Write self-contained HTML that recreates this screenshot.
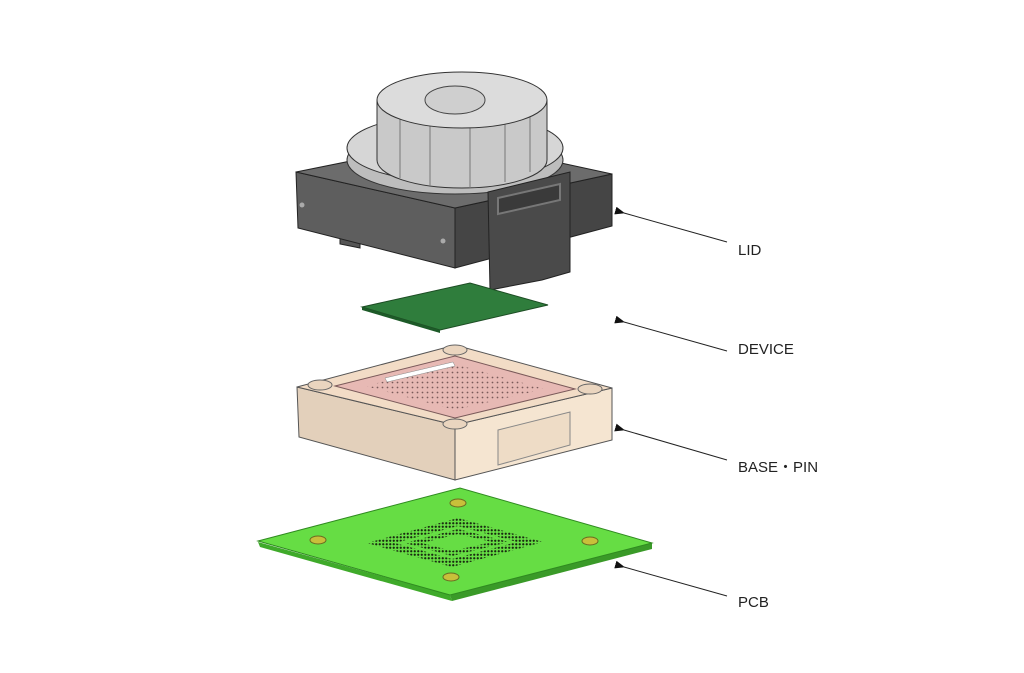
<!DOCTYPE html>
<html><head><meta charset="utf-8"><style>
html,body{margin:0;padding:0;background:#fff;}
svg{display:block;}
text{font-family:"Liberation Sans","Noto Sans CJK JP",sans-serif;font-size:15px;fill:#222;}
</style></head><body>
<svg width="1024" height="673" viewBox="0 0 1024 673" xmlns="http://www.w3.org/2000/svg">
<defs>
<marker id="ah" markerWidth="10" markerHeight="8" refX="1" refY="4" orient="auto">
<path d="M10,0 L0,4 L10,8 Z" fill="#111"/></marker>
<pattern id="dots" width="3.5" height="3.5" patternUnits="userSpaceOnUse">
<circle cx="1.75" cy="1.75" r="1.1" fill="#1a2a10"/></pattern>
<pattern id="pdots" width="5" height="5" patternUnits="userSpaceOnUse">
<circle cx="2.5" cy="2.5" r="0.9" fill="#7a5a5a"/></pattern>
</defs>

<!-- LID -->
<polygon points="340,228 360,228 360,248 340,244" fill="#555" stroke="#222"/>
<polygon points="296,172 455,208 455,268 298,228" fill="#5e5e5e" stroke="#222"/>
<polygon points="455,208 612,174 612,226 455,268" fill="#454545" stroke="#222"/>
<polygon points="296,172 455,140 612,174 455,208" fill="#6c6c6c" stroke="#222"/>
<ellipse cx="455" cy="160" rx="108" ry="34" fill="#bdbdbd" stroke="#333"/>
<ellipse cx="455" cy="148" rx="108" ry="34" fill="#d6d6d6" stroke="#333"/>
<path d="M377,100 L377,160 A85,28 0 0 0 547,160 L547,100 Z" fill="#c9c9c9" stroke="#333"/>
<g stroke="#777" stroke-width="1">
<line x1="400" y1="115" x2="400" y2="178"/><line x1="430" y1="124" x2="430" y2="186"/>
<line x1="470" y1="126" x2="470" y2="188"/><line x1="505" y1="120" x2="505" y2="182"/>
<line x1="530" y1="112" x2="530" y2="172"/></g>
<ellipse cx="462" cy="100" rx="85" ry="28" fill="#dcdcdc" stroke="#333"/>
<ellipse cx="455" cy="100" rx="30" ry="14" fill="#cfcfcf" stroke="#444"/>
<polygon points="488,192 570,172 570,272 542,280 490,290" fill="#4a4a4a" stroke="#222"/>
<polygon points="498,198 560,184 560,200 498,214" fill="#3a3a3a" stroke="#777" stroke-width="2"/>
<circle cx="302" cy="205" r="2.5" fill="#aaa"/><circle cx="443" cy="241" r="2.5" fill="#aaa"/>

<!-- DEVICE -->
<polygon points="362,307 470,283 548,305 440,330" fill="#2f7d3c" stroke="#1d4d24"/>
<polygon points="362,307 440,330 440,333 362,310" fill="#1d5a28"/>

<!-- BASE -->
<polygon points="297,387 455,425 455,480 299,437" fill="#e3d0bb" stroke="#555"/>
<polygon points="455,425 612,388 612,440 455,480" fill="#f5e5d1" stroke="#555"/>
<polygon points="498,430 570,412 570,445 498,465" fill="#eedcc6" stroke="#888"/>
<polygon points="297,387 455,345 612,388 455,425" fill="#f2dcc6" stroke="#555"/>
<polygon points="335,386 455,356 575,389 455,418" fill="#e7b9b4" stroke="#7a5a5a"/>
<polygon points="365,386 455,364 545,389 455,410" fill="url(#pdots)"/>
<polygon points="385,378 453,362 455,366 387,382" fill="#fff" stroke="#888" stroke-width=".5"/>
<ellipse cx="320" cy="385" rx="12" ry="5" fill="#ead5bf" stroke="#666"/>
<ellipse cx="455" cy="350" rx="12" ry="5" fill="#ead5bf" stroke="#666"/>
<ellipse cx="590" cy="389" rx="12" ry="5" fill="#ead5bf" stroke="#666"/>
<ellipse cx="455" cy="424" rx="12" ry="5" fill="#ead5bf" stroke="#666"/>

<!-- PCB -->
<polygon points="258,542 450,595 452,601 260,547" fill="#3faa2a"/>
<polygon points="450,595 652,543 652,549 452,601" fill="#3a9a28"/>
<polygon points="258,541 460,488 652,543 450,595" fill="#66dd44" stroke="#2f8a20"/>
<polygon points="367,543 458,518 543,542 452,567" fill="url(#dots)"/>
<polygon points="395,543 458,526 517,542 452,559" fill="#66dd44"/>
<polygon points="405,543 458,529 509,542 452,556" fill="url(#dots)"/>
<polygon points="422,543 458,534 492,542 452,551" fill="#66dd44"/>
<g fill="#c8c03a" stroke="#6a6a20"><ellipse cx="458" cy="503" rx="8" ry="4"/><ellipse cx="318" cy="540" rx="8" ry="4"/>
<ellipse cx="590" cy="541" rx="8" ry="4"/><ellipse cx="451" cy="577" rx="8" ry="4"/></g>

<!-- arrows -->
<g stroke="#222" stroke-width="1">
<line x1="727" y1="242" x2="624" y2="213" marker-end="url(#ah)"/>
<line x1="727" y1="351" x2="624" y2="322" marker-end="url(#ah)"/>
<line x1="727" y1="460" x2="624" y2="430" marker-end="url(#ah)"/>
<line x1="727" y1="596" x2="624" y2="567" marker-end="url(#ah)"/>
</g>
<text x="738" y="255">LID</text>
<text x="738" y="354">DEVICE</text>
<text x="738" y="472">BASE・PIN</text>
<text x="738" y="607">PCB</text>
</svg>
</body></html>
